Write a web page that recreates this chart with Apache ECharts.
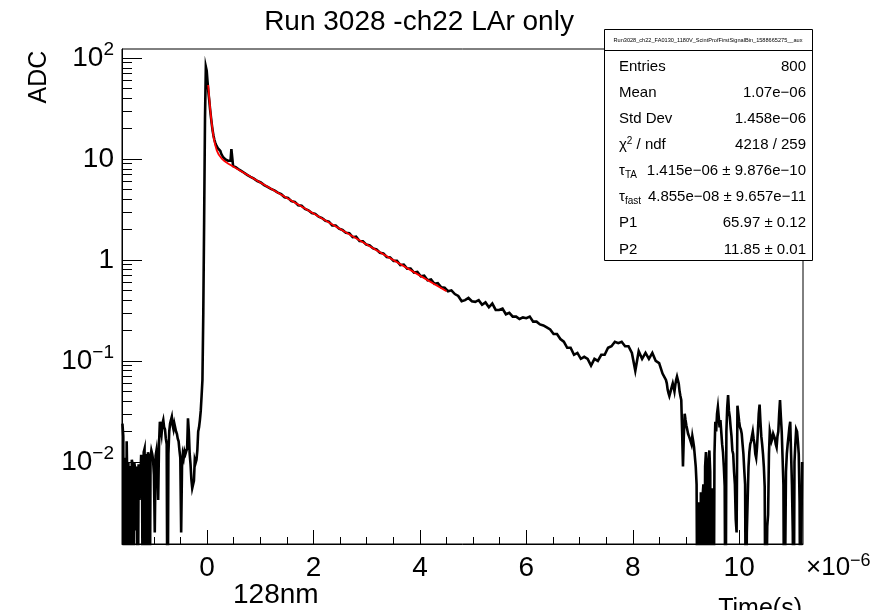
<!DOCTYPE html>
<html><head><meta charset="utf-8">
<script src="https://cdn.jsdelivr.net/npm/echarts@6/dist/echarts.min.js"></script>
<style>html,body{margin:0;padding:0;background:#fff}#c{width:875px;height:610px}</style>
</head><body><div id="c"></div>
<script>
const FONT = '"Liberation Sans", Arial, Helvetica, sans-serif';

// time in units of 1e-6 s, ADC values
const fineStep = 0.016;
const pulseStart = -1.592;
const pulseAdc = [
 0.024,0.018,0,0.011,0,0.016,0.0045,0.01,0,0.009,
 0,0.0105,0.0095,0,0.0098,0.0085,0.0021,0.009,0,0.0095,
 0.0042,0.0065,0.0118,0.0105,0,0.0125,0.0135,0,0.012,0,
 0.0125,0.0112,0,0.011,0.013,0.012,0.0105,0.0075,0.002,0.0115,
 0.013,0.0095,0.0042,0.015,0.025,0.022,0.019,0.024,0.026,0.022,
 0.021,0.017,0.015,0,0.012,0.02,0.024,0.026,0.028,0.023,
 0.021,0.024,0.023,0.02,0.019,0.017,0.016,0.013,0.011,0.002,
 0.009,0.012,0.011,0.0128,0.012,0.0128,0.0135,0.027,0.02,0.012,
 0.0095,0.0067,0.0055,0.0053,0.0065,0.0105,0.0098,0.0105,0.013,0.02,
 0.022,0.026,0.032,0.045,0.065,0.3,2.5,25,82,75,
 58,46,38,31,26,22,19,17,15.5,14.5,
 13.8,13.2,12.8,12.6,12.4,12.0,11.3,10.8,10.5,10.3,
 10.1,9.9,9.8,9.7,9.6,9.5,9.4,9.6,12.5,12.3,
 8.5,8.45,8.35,8.3,8.2,8.1,7.95,7.85,7.75,7.68,
 7.55,7.48];
const slowStart = 0.688;
const slowStep = 0.064;
const slowAdc = [7.35,6.95,6.65,6.38,6.05,5.85,5.52,5.3,5.05,4.88,
 4.65,4.48,4.18,4.12,3.82,3.76,3.48,3.44,3.2,3.1,
 2.92,2.86,2.68,2.6,2.44,2.4,2.2,2.19,2.04,1.98,
 1.86,1.84,1.68,1.7,1.54,1.53,1.42,1.39,1.3,1.27,
 1.18,1.16,1.07,1.06,0.98,0.98,0.89,0.9,0.82,0.82,
 0.75,0.76,0.69,0.7,0.63,0.64,0.58,0.59,0.535,0.53,
 0.49,0.5,0.46,0.44,0.39,0.4,0.42,0.39,0.385,0.4,
 0.36,0.38,0.34,0.37,0.32,0.32,0.33,0.29,0.3,0.275,
 0.275,0.26,0.27,0.265,0.275,0.245,0.245,0.23,0.225,0.215,
 0.205,0.185,0.185,0.165,0.155,0.135,0.135,0.115,0.12,0.105,
 0.11,0.105,0.09,0.105,0.1,0.115,0.115,0.135,0.14,0.155,
 0.15,0.155,0.14,0.14,0.12,0.08,0.125,0.105,0.12,0.105,
 0.12,0.1,0.095,0.075,0.065];
const tailStart = 8.64;
const tailAdc = [
 0.06,0.052,0.048,0.045,0.046,0.052,0.056,0.06,0.055,0.05,
 0.058,0.065,0.07,0.073,0.06,0.05,0.045,0.041,0.02,0.009,
 0.018,0.03,0.026,0.023,0.021,0.019,0.018,0.017,0.016,0.015,
 0.018,0.016,0.014,0.014,0.009,0.006,0,0,0.004,0,
 0.005,0,0.0045,0.006,0,0.009,0.0125,0.006,0,0.01,
 0.013,0.008,0,0.004,0.0055,0,0.012,0.025,0.02,0.03,
 0.035,0.028,0.022,0.026,0.026,0.015,0.0125,0.009,0.0058,0,
 0.02,0.035,0.046,0.032,0.028,0.022,0.018,0.013,0.012,0.008,
 0.006,0.0027,0.002,0.036,0.03,0.025,0.022,0.021,0.019,0.015,
 0.012,0.0083,0.006,0,0.002,0.002,0.009,0.0125,0.015,0.016,
 0.018,0.02,0.017,0.015,0.012,0.011,0.014,0.02,0.03,0.037,
 0.025,0.018,0.015,0.012,0.009,0.0057,0,0,0.0023,0.003,
 0.012,0.02,0.018,0.016,0.017,0.019,0.018,0.017,0.015,0.014,
 0.018,0.02,0.03,0.041,0.028,0.02,0.011,0.006,0,0,
 0.008,0.012,0.015,0.018,0.022,0.025,0.012,0.006,0.002,0,
 0.01,0.015,0.021,0.02,0.016,0.012,0.004,0,0.0017,0.01];

// fit curve
const fitTime = [0.02,0.04,0.06,0.08,0.10,0.12,0.15,0.18,0.22,0.27,0.33,0.40,1.0,2.0,3.0,4.0,4.5];
const fitAdc  = [54,40,30.5,24,19.8,16.6,13.8,12.2,11.0,10.15,9.5,8.95,5.85,2.88,1.42,0.70,0.49];

const xMajorTicks = [0,2,4,6,8,10];
const xMinorTicks = [-1.5,-1,-0.5,0.5,1,1.5,2.5,3,3.5,4.5,5,5.5,6.5,7,7.5,8.5,9,9.5,10.5,11];
const yMajorTicks = [0.01,0.1,1,10,100];
const yMinorTicks = [0.002,0.003,0.004,0.005,0.006,0.007,0.008,0.009,
 0.02,0.03,0.04,0.05,0.06,0.07,0.08,0.09,
 0.2,0.3,0.4,0.5,0.6,0.7,0.8,0.9,
 2,3,4,5,6,7,8,9,20,30,40,50,60,70,80,90];

const statLabels = ['Entries','Mean','Std Dev','{g|χ}{sup|2}{n| / ndf}','{g|τ}{sub|TA}','{g|τ}{sub|fast}','P1','P2'];
const statValues = ['800','1.07e−06','1.458e−06','4218 / 259','1.415e−06 ± 9.876e−10','4.855e−08 ± 9.657e−11','65.97 ± 0.12','11.85 ± 0.01'];

const yMin = 0.00154, yMax = 122.7;

function seg(start, step, vals) {
  return vals.map((v, i) => [+(start + i * step).toFixed(4), Math.max(v, 1e-4)]);
}
const histData = [].concat(seg(pulseStart, fineStep, pulseAdc), seg(slowStart, slowStep, slowAdc), seg(tailStart, fineStep, tailAdc));
const fitData = fitTime.map((t, i) => [t, fitAdc[i]]);

const supTxt = {'-1':'−1','-2':'−2','2':'2'};
const chart = echarts.init(document.getElementById('c'));
const graphics = [
  {type:'text', x:419, y:22, z:100, style:{text:'Run 3028 -ch22 LAr only', font:'28px ' + FONT, fill:'#000', align:'center', verticalAlign:'middle'}},
  {type:'text', x:39, y:77, rotation:Math.PI/2, z:100, style:{text:'ADC', font:'25px ' + FONT, fill:'#000', align:'center', verticalAlign:'middle'}},
  {type:'text', x:802, y:597, z:100, style:{text:'Time(s)', font:'25px ' + FONT, fill:'#000', align:'right', verticalAlign:'top'}},
  {type:'text', x:806, y:568, z:100, style:{text:'{b|×10}{s|−6}', fill:'#000', align:'left', verticalAlign:'middle',
     rich:{b:{fontSize:26, fontFamily:FONT, fill:'#000'}, s:{fontSize:18, fontFamily:FONT, fill:'#000', padding:[0,0,14,0]}}}},
  {type:'text', x:233, y:595, z:100, style:{text:'128nm', font:'28px ' + FONT, fill:'#000', align:'left', verticalAlign:'middle'}},
  {type:'rect', z:100, shape:{x:604.5, y:29.5, width:208, height:231}, style:{fill:'#fff', stroke:'#000', lineWidth:1}},
  {type:'line', z:101, shape:{x1:604.5, y1:50.5, x2:812.5, y2:50.5}, style:{stroke:'#000', lineWidth:1}},
  {type:'text', z:101, x:708, y:40, style:{text:'Run3028_ch22_FA0130_1180V_ScintProfFirstSignalBin_1588665275__aux', font:'5.6px ' + FONT, fill:'#000', align:'center', verticalAlign:'middle'}}
];
const rich = {
  g:{fontSize:15, fontFamily:FONT, fill:'#000'},
  n:{fontSize:15, fontFamily:FONT, fill:'#000'},
  sup:{fontSize:10, fontFamily:FONT, fill:'#000', padding:[0,0,8,0]},
  sub:{fontSize:10, fontFamily:FONT, fill:'#000', padding:[8,0,0,0]}
};
statLabels.forEach((t, i) => {
  const y = 66.7 + 26.1 * i;
  graphics.push({type:'text', z:101, x:619, y:y, style:{text:t, font:'15px ' + FONT, fill:'#000', align:'left', verticalAlign:'middle', rich:rich}});
  graphics.push({type:'text', z:101, x:806, y:y, style:{text:statValues[i], font:'15px ' + FONT, fill:'#000', align:'right', verticalAlign:'middle'}});
});

const option = {
  animation:false,
  grid:{left:122, top:49, width:681, height:495, show:true, borderColor:'#000', borderWidth:1, backgroundColor:'transparent'},
  xAxis:[
    {type:'value', min:-1.6, max:11.2, position:'bottom',
     axisLine:{show:true, onZero:false, lineStyle:{color:'#000', width:1}},
     axisTick:{show:true, inside:true, length:14, customValues:xMajorTicks, lineStyle:{color:'#000'}},
     axisLabel:{show:true, customValues:xMajorTicks, margin:10, fontSize:28, fontFamily:FONT, color:'#000'},
     splitLine:{show:false}},
    {type:'value', min:-1.6, max:11.2, position:'bottom',
     axisLine:{show:false, onZero:false},
     axisTick:{show:true, inside:true, length:7, customValues:xMinorTicks, lineStyle:{color:'#000'}},
     axisLabel:{show:false}, splitLine:{show:false}}
  ],
  yAxis:[
    {type:'log', logBase:10, min:yMin, max:yMax, position:'left',
     axisLine:{show:true, onZero:false, lineStyle:{color:'#000', width:1}},
     axisTick:{show:true, inside:true, length:20, customValues:yMajorTicks, lineStyle:{color:'#000'}},
     axisLabel:{show:true, customValues:yMajorTicks, margin:8,
       formatter:function(v){ const e = Math.round(Math.log10(v)); if (e === 0) return '{b|1}'; if (e === 1) return '{b|10}'; return '{b|10}{s|' + supTxt[String(e)] + '}'; },
       rich:{b:{fontSize:28, fontFamily:FONT, color:'#000'}, s:{fontSize:19, fontFamily:FONT, color:'#000', padding:[0,0,16,0]}}},
     splitLine:{show:false}},
    {type:'log', logBase:10, min:yMin, max:yMax, position:'left',
     axisLine:{show:false, onZero:false},
     axisTick:{show:true, inside:true, length:10, customValues:yMinorTicks, lineStyle:{color:'#000'}},
     axisLabel:{show:false}, splitLine:{show:false}}
  ],
  series:[
    {type:'line', data:histData, xAxisIndex:0, yAxisIndex:0, showSymbol:false, symbol:'none', clip:true, sampling:null,
     lineStyle:{color:'#000', width:2.6, join:'miter'}, z:3},
    {type:'line', data:fitData, xAxisIndex:0, yAxisIndex:0, showSymbol:false, symbol:'none', clip:true,
     lineStyle:{color:'#ff0000', width:1.8}, z:4}
  ],
  graphic:graphics
};
chart.setOption(option);
</script></body></html>
